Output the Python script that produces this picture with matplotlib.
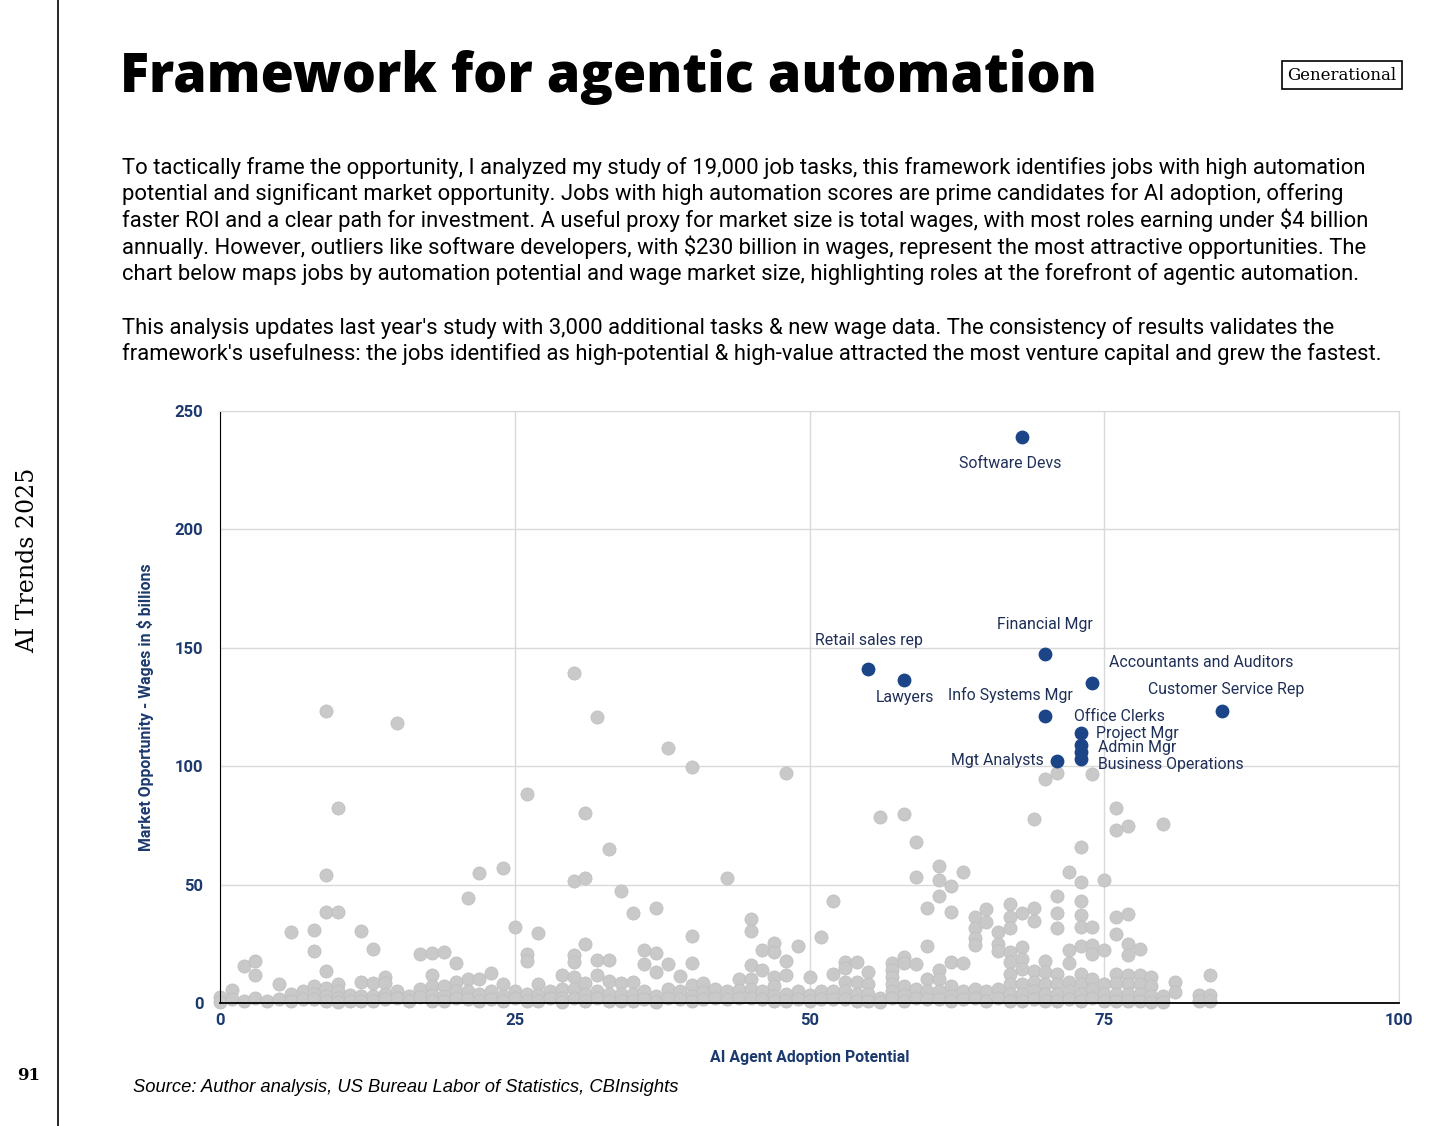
import matplotlib.pyplot as plt
import numpy as np

# grey dots, one column per AI adoption score
gray_cols = list(range(0, 82)) + [83, 84]
gray_vals = [
    [2.5, 0.5], [5.5, 1.5], [15.6, 1], [17.7, 12, 2], [1], [8, 1.5], [30, 4, 1], [5, 1.5],
    [30.8, 22, 7, 4, 1.5], [123.3, 54, 38.6, 13.5, 6.5, 3, 1], [82.2, 38.6, 8, 5, 2, 0.5],
    [3.5, 1], [30.4, 9, 3, 1], [23, 8.5, 3, 1], [11, 8.5, 4, 1.5], [118.4, 5, 2], [3, 1],
    [20.5, 6, 2.5], [21, 12, 7, 3.5, 1], [21.4, 7, 3, 1], [16.8, 9, 5, 2], [44.5, 10, 5, 1.5],
    [54.8, 10, 4, 1], [12.5, 5, 1.5], [56.9, 8, 3, 1], [32, 5, 2], [88.1, 20.5, 17.7, 4, 1],
    [29.5, 8, 3.5, 1], [5, 2], [11.8, 6, 2, 0.5], [139.2, 51.5, 20.4, 17.4, 11, 6, 2],
    [80.1, 52.9, 24.8, 8.5, 4, 1], [120.6, 18, 12, 5, 2], [65, 18, 9.5, 4, 1], [47.4, 8.5, 4, 1],
    [38, 9, 4, 1], [22.4, 16.5, 5, 1.5], [40.3, 21, 13.2, 3, 0.5], [107.8, 16.3, 6, 2],
    [11.5, 5, 1.5], [99.8, 28.3, 17, 7.5, 3, 1], [8.5, 4.5, 1.5], [6, 2], [52.6, 5, 1.5],
    [10, 5.5, 2], [35.3, 30.4, 16, 10, 6, 2], [22.4, 14, 5, 1.5], [25.3, 21.7, 11, 7, 3, 1],
    [97, 17.6, 12, 4, 1], [24, 5, 1.5], [11, 3.5, 1], [27.7, 5, 1.5], [43.2, 12.2, 5, 1.5],
    [17.5, 14.6, 9, 5, 1.5], [17.5, 9, 4, 1], [13.2, 8, 4, 1], [78.7, 2, 0.5],
    [17, 14, 11, 8, 5, 2], [79.8, 19.5, 16.8, 7, 3.5, 1], [67.8, 53, 16.5, 6, 2],
    [40.3, 24.2, 10, 5, 1.5], [58, 52, 45, 14, 10, 5, 1.5], [49.6, 38.3, 17.2, 7, 3, 1],
    [55.5, 16.8, 5, 1.5], [36.2, 31.5, 27.5, 24.5, 6, 2], [39.5, 34, 5, 1], [30, 25, 22, 6, 2],
    [41.7, 36.3, 31.6, 21.5, 17.3, 12.4, 8.2, 4, 1], [37.9, 23.5, 18.6, 14.3, 8, 4, 1],
    [77.7, 40, 34.8, 13.7, 9, 5, 1.5], [94.5, 17.7, 13, 8, 4, 1],
    [97, 45, 37.9, 31.5, 12.2, 8, 4, 1], [55.5, 22.4, 16.8, 9, 5, 1.5],
    [65.8, 51, 43, 37, 32.2, 24, 12.2, 8, 4, 1], [96.6, 32, 24.5, 20.6, 10, 6, 2],
    [52, 22.5, 8, 4, 1], [82.5, 73, 36.3, 29, 12.2, 8.3, 4, 1],
    [74.6, 37.6, 24.8, 20.3, 12, 8, 4, 1], [22.7, 12, 8, 4, 1], [11, 7, 3, 0.5],
    [75.5, 3, 0.5], [8.7, 4.8], [3.5, 1], [11.8, 3.5, 1],
]

# highlighted jobs
jobs = ["Software Devs", "Financial Mgr", "Retail sales rep", "Lawyers",
        "Accountants and Auditors", "Customer Service Rep", "Office Clerks", "Project Mgr",
        "Info Systems Mgr", "Admin Mgr", "Business Operations", "Mgt Analysts"]
job_x = [68, 70, 55, 58, 74, 85, 70, 73, 73, 73, 73, 71]
job_y = [239, 147.5, 141, 136.5, 135, 123.5, 121, 114, 109, 106, 103, 102]

# label placement (offset points, alignment)
offsets = [(-8.6, -18.7, "center"), (0, 20.9, "center"), (0, 20.9, "center"), (0.7, -13, "center"),
           (12.2, 15.1, "left"), (2.9, 15.1, "center"), (20.9, 0, "left"), (10.8, 0, "left"),
           (-50.4, 36, "center"), (12.2, 2.9, "left"), (12.2, -3.6, "left"), (-9.4, 0.7, "right")]

gx = []
gy = []
for c, vals in zip(gray_cols, gray_vals):
    for v in vals:
        gx.append(c)
        gy.append(v)

navy = "#1c3a6e"
blue = "#1c4587"

fig = plt.figure(figsize=(14.56, 11.26), dpi=100)

# page decorations
fig.add_artist(plt.Line2D([58 / 1456, 58 / 1456], [0, 1], color="black", lw=1.2))
fig.text(120 / 1456, 1 - 92 / 1126, "Framework for agentic automation", family="Open Sans",
         weight="heavy", fontsize=38.8, va="baseline", ha="left")
fig.text(1342 / 1456, 1 - 75 / 1126, "Generational", family="DejaVu Serif", fontsize=12,
         ha="center", va="center",
         bbox=dict(boxstyle="square,pad=0.35", fc="white", ec="black", lw=1.2))
fig.text(28 / 1456, 1 - 560 / 1126, "AI Trends 2025", family="DejaVu Serif", fontsize=17,
         rotation=90, ha="center", va="center")
fig.text(29 / 1456, 1 - 1075 / 1126, "91", family="DejaVu Serif", weight="bold", fontsize=12,
         ha="center", va="center")

para1 = ("To tactically frame the opportunity, I analyzed my study of 19,000 job tasks, this framework identifies jobs with high automation\n"
         "potential and significant market opportunity. Jobs with high automation scores are prime candidates for AI adoption, offering\n"
         "faster ROI and a clear path for investment. A useful proxy for market size is total wages, with most roles earning under $4 billion\n"
         "annually. However, outliers like software developers, with $230 billion in wages, represent the most attractive opportunities. The\n"
         "chart below maps jobs by automation potential and wage market size, highlighting roles at the forefront of agentic automation.")
para2 = ("This analysis updates last year's study with 3,000 additional tasks & new wage data. The consistency of results validates the\n"
         "framework's usefulness: the jobs identified as high-potential & high-value attracted the most venture capital and grew the fastest.")
# va="baseline" on multi-line text anchors the last line
fig.text(122 / 1456, 1 - 280 / 1126, para1, family="Roboto", fontsize=15.85, linespacing=1.21,
         ha="left", va="baseline")
fig.text(122 / 1456, 1 - 360 / 1126, para2, family="Roboto", fontsize=15.85, linespacing=1.21,
         ha="left", va="baseline")

fig.text(133 / 1456, 1 - 1088 / 1126, "Source: Author analysis, US Bureau Labor of Statistics, CBInsights",
         family="Liberation Sans", style="italic", fontsize=13.2, ha="left", va="center")

ax = fig.add_axes([220 / 1456, 1 - 1003 / 1126, (1399 - 220) / 1456, (1003 - 411) / 1126])
ax.scatter(gx, gy, s=90, color="#c9c9c9", edgecolor="#bebebe", linewidth=0.5, zorder=2, clip_on=False)
ax.scatter(job_x, job_y, s=80, color=blue, zorder=3)

for name, x, y, (dx, dy, ha) in zip(jobs, job_x, job_y, offsets):
    ax.annotate(name, (x, y), xytext=(dx, dy), textcoords="offset points", ha=ha, va="center",
                family="Roboto", fontsize=11.4, color="#1f2f57", zorder=4)

ax.set_xlim(0, 100)
ax.set_ylim(0, 250)
ax.set_xticks([0, 25, 50, 75, 100])
ax.set_yticks([0, 50, 100, 150, 200, 250])
ax.grid(True, color="#d9d9d9", lw=1, zorder=0)
ax.set_axisbelow(True)
for s in ["top", "right"]:
    ax.spines[s].set_color("#d9d9d9")
ax.spines["left"].set_color("black")
ax.spines["bottom"].set_color("black")
ax.spines["bottom"].set_linewidth(1.3)
ax.tick_params(axis="y", length=0, pad=12)
ax.tick_params(axis="x", length=0, pad=7)
for lbl in ax.get_xticklabels() + ax.get_yticklabels():
    lbl.set_family("Roboto")
    lbl.set_weight("bold")
    lbl.set_color(navy)
    lbl.set_fontsize(12)
ax.set_xlabel("AI Agent Adoption Potential", family="Roboto", weight="bold", color=navy,
              fontsize=11.4, labelpad=16)
ax.set_ylabel("Market Opportunity - Wages in $ billions", family="Roboto", weight="bold",
              color=navy, fontsize=11.4, labelpad=15)

fig.savefig("out.png", dpi=100)
